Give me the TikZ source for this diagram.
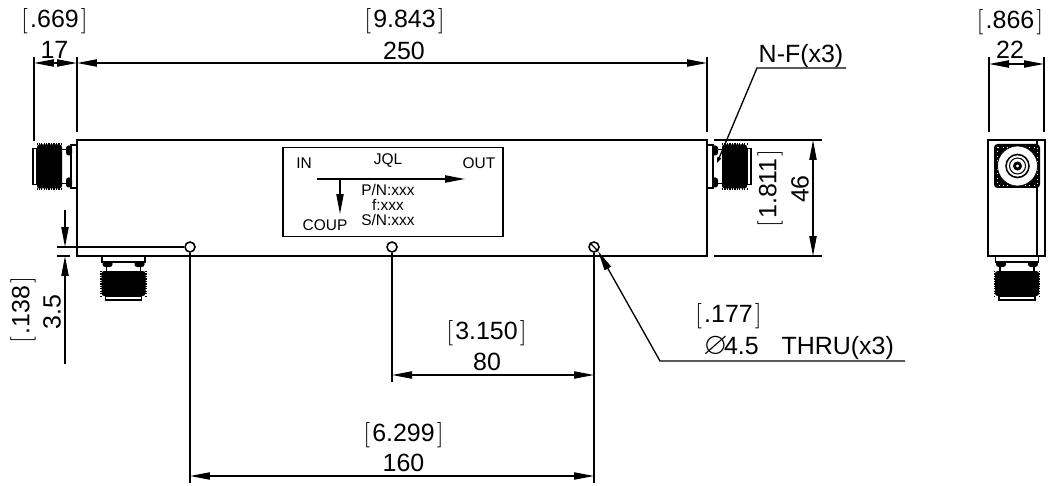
\documentclass[tikz,border=0pt]{standalone}
\usepackage{fontspec}
\usepackage{amssymb}
\setmainfont{Liberation Sans}
\usetikzlibrary{arrows.meta}

\newcommand{\brk}[1]{$\left[\vcenter{\hbox{\rule{0pt}{13pt}}}\right.$#1$\left.\vcenter{\hbox{\rule{0pt}{13pt}}}\right]$}

\tikzset{
  thin line/.style={line width=0.75pt},
  tip/.style={-{Triangle[length=4mm,width=1.45mm]}},
  dim/.style={thin line,{Triangle[length=4mm,width=1.45mm]}-{Triangle[length=4mm,width=1.45mm]}},
  txt/.style={font=\fontsize{14.2}{16}\selectfont,inner sep=0pt},
  small/.style={font=\fontsize{8.8}{10}\selectfont,inner sep=0pt},
  hole/.style={circle,draw,line width=0.9pt,inner sep=0pt,minimum size=2mm},
  nconn/.pic={
    \draw[line width=0.8pt,fill=white] (0,-21.5) rectangle (6,21.5);
    \draw[line width=0.8pt] (6,-17) -- (15,-17) (6,17) -- (15,17);
    \fill[rounded corners=1.5pt] (5,-21) rectangle (11,-11);
    \fill[rounded corners=1.5pt] (5,11) rectangle (11,21);
    \fill[rounded corners=1.5pt] (15,-22) rectangle (40,22);
    \draw[line width=1pt,dash pattern=on 0.7pt off 0.7pt] (15,-22.5) -- (40,-22.5) (15,22.5) -- (40,22.5);
    \draw[line width=0.8pt,fill=white] (40,-18) rectangle (44,18);
  }
}

\begin{document}
\begin{tikzpicture}[x=0.02cm,y=-0.02cm]
  \useasboundingbox (0,0) rectangle (1057,486);

  % connectors
  \path (707,166.5) pic {nconn};
  \path (77,166.5) pic[xscale=-1] {nconn};
  \path (123.5,256) pic[rotate=-90] {nconn};
  \path (1017,256) pic[rotate=-90] {nconn};

  % main body
  \node[draw,line width=1.1pt,minimum width=12.6cm,minimum height=2.32cm,inner sep=0pt,fill=white] (body) at (392,198) {};
  \node[hole,fill=white] (h1) at (190,247) {};
  \node[hole,fill=white] (h2) at (392,247) {};
  \node[hole,fill=white] (h3) at (594,247) {};
  \draw[thin line] (h3.north west) -- (h3.south east);

  % label
  \node[draw,line width=1pt,minimum width=4.4cm,minimum height=1.78cm,inner sep=0pt] (plate) at (393,192) {};
  \node[small] (in) at (304,163) {IN};
  \node[small] (jql) at (388,161) {JQL};
  \node[small] (out) at (479,163) {OUT};
  \node[small] (pn) at (388,190) {P/N:xxx};
  \node[small] (f) at (388,205) {f:xxx};
  \node[small] (sn) at (388,220) {S/N:xxx};
  \node[small] (coup) at (325,225) {COUP};
  \coordinate (a1) at (317,179);
  \coordinate (a2) at (465,179);
  \coordinate (a3) at (340,179);
  \coordinate (a4) at (340,214);
  \draw[thin line,tip] (a1) -- (a2);
  \draw[thin line,tip] (a3) -- (a4);

  % top dimensions
  \coordinate (t0) at (34,63);
  \coordinate (t1) at (77,63);
  \coordinate (t2) at (707,63);
  \draw[thin line] (34,57) -- (34,141);
  \draw[thin line] (77,57) -- (77,132);
  \draw[thin line] (707,57) -- (707,132);
  \draw[dim] (t0) -- (t1);
  \draw[dim] (t1) -- (t2);
  \node[txt] (l17) at (54.5,50) {17};
  \node[txt] (l669) at (54.5,21) {\brk{.669}};
  \node[txt] (l250) at (404,51) {250};
  \node[txt] (l9843) at (404.5,21) {\brk{9.843}};

  % side view
  \node[draw,line width=1.1pt,minimum width=1.14cm,minimum height=2.32cm,inner sep=0pt,fill=white] (side) at (1016.5,198) {};
  \draw[line width=0.9pt] (1037,140) -- (1037,256);
  \fill[rounded corners=2pt] (994,144) rectangle (1040,188);
  \draw[white,line width=0.5pt,dotted] (997,147) rectangle (1037,185);
  \node[circle,draw,fill=white,line width=0.4pt,inner sep=0pt,minimum size=0.8cm] (c1) at (1017.5,166) {};
  \node[circle,draw,line width=0.9pt,inner sep=0pt,minimum size=0.46cm] (c2) at (c1) {};
  \node[circle,draw,line width=0.6pt,inner sep=0pt,minimum size=0.32cm] (c3) at (c1) {};
  \node[circle,draw,line width=1.6pt,inner sep=0pt,minimum size=0.12cm] (c4) at (c1) {};
  \coordinate (s0) at (989,64);
  \coordinate (s1) at (1044,64);
  \draw[thin line] (989,57) -- (989,132);
  \draw[thin line] (1044,57) -- (1044,132);
  \draw[dim] (s0) -- (s1);
  \node[txt] (l22) at (1010,50) {22};
  \node[txt] (l866) at (1010,22) {\brk{.866}};

  % height
  \coordinate (r0) at (813,140);
  \coordinate (r1) at (813,256);
  \draw[thin line] (714,140) -- (822,140);
  \draw[thin line] (714,256) -- (822,256);
  \draw[dim] (r0) -- (r1);
  \node[txt,rotate=90] (l46) at (800,189) {46};
  \node[txt,rotate=90] (l1811) at (770,188.5) {\brk{1.811}};

  % N-F leader
  \coordinate (n0) at (846,68);
  \coordinate (n1) at (757,68);
  \coordinate (n2) at (717,163);
  \draw[thin line,-{Triangle[length=1.2mm,width=0.8mm]}] (n0) -- (n1) -- (n2);
  \node[txt] (lnf) at (801,56) {N-F(x3)};

  % hole offset
  \draw[thin line] (57,247) -- (h1.west);
  \draw[thin line] (57,256) -- (70,256);
  \coordinate (o0) at (65,210);
  \coordinate (o1) at (65,247);
  \coordinate (o2) at (65,256);
  \coordinate (o3) at (65,364);
  \draw[thin line,tip] (o0) -- (o1);
  \draw[thin line,tip] (o3) -- (o2);
  \node[txt,rotate=90] (l35) at (52,312) {3.5};
  \node[txt,rotate=90] (l138) at (23,310) {\brk{.138}};

  % hole spacing
  \coordinate (b1) at (190,483);
  \coordinate (b2) at (392,382);
  \coordinate (b3) at (594,483);
  \coordinate (d1) at (392,375);
  \coordinate (d2) at (594,375);
  \coordinate (d3) at (190,476);
  \coordinate (d4) at (594,476);
  \draw[thin line] (h1.south) -- (b1);
  \draw[thin line] (h2.south) -- (b2);
  \draw[thin line] (h3.south) -- (b3);
  \draw[dim] (d1) -- (d2);
  \draw[dim] (d3) -- (d4);
  \node[txt] (l80) at (487,362) {80};
  \node[txt] (l3150) at (486.5,333) {\brk{3.150}};
  \node[txt] (l160) at (403.5,463) {160};
  \node[txt] (l6299) at (403.5,435) {\brk{6.299}};

  % thru leader
  \coordinate (e0) at (905,361);
  \coordinate (e1) at (660,361);
  \draw[thin line,tip] (e0) -- (e1) -- (h3.south east);
  \node[txt] (l177) at (728.5,316) {\brk{.177}};
  \node[txt,anchor=west] (lthru) at (703,348) {\smash{\scalebox{1.25}{$\varnothing$}}\kern-2pt 4.5\hspace{13pt}THRU(x3)};
\end{tikzpicture}
\end{document}
